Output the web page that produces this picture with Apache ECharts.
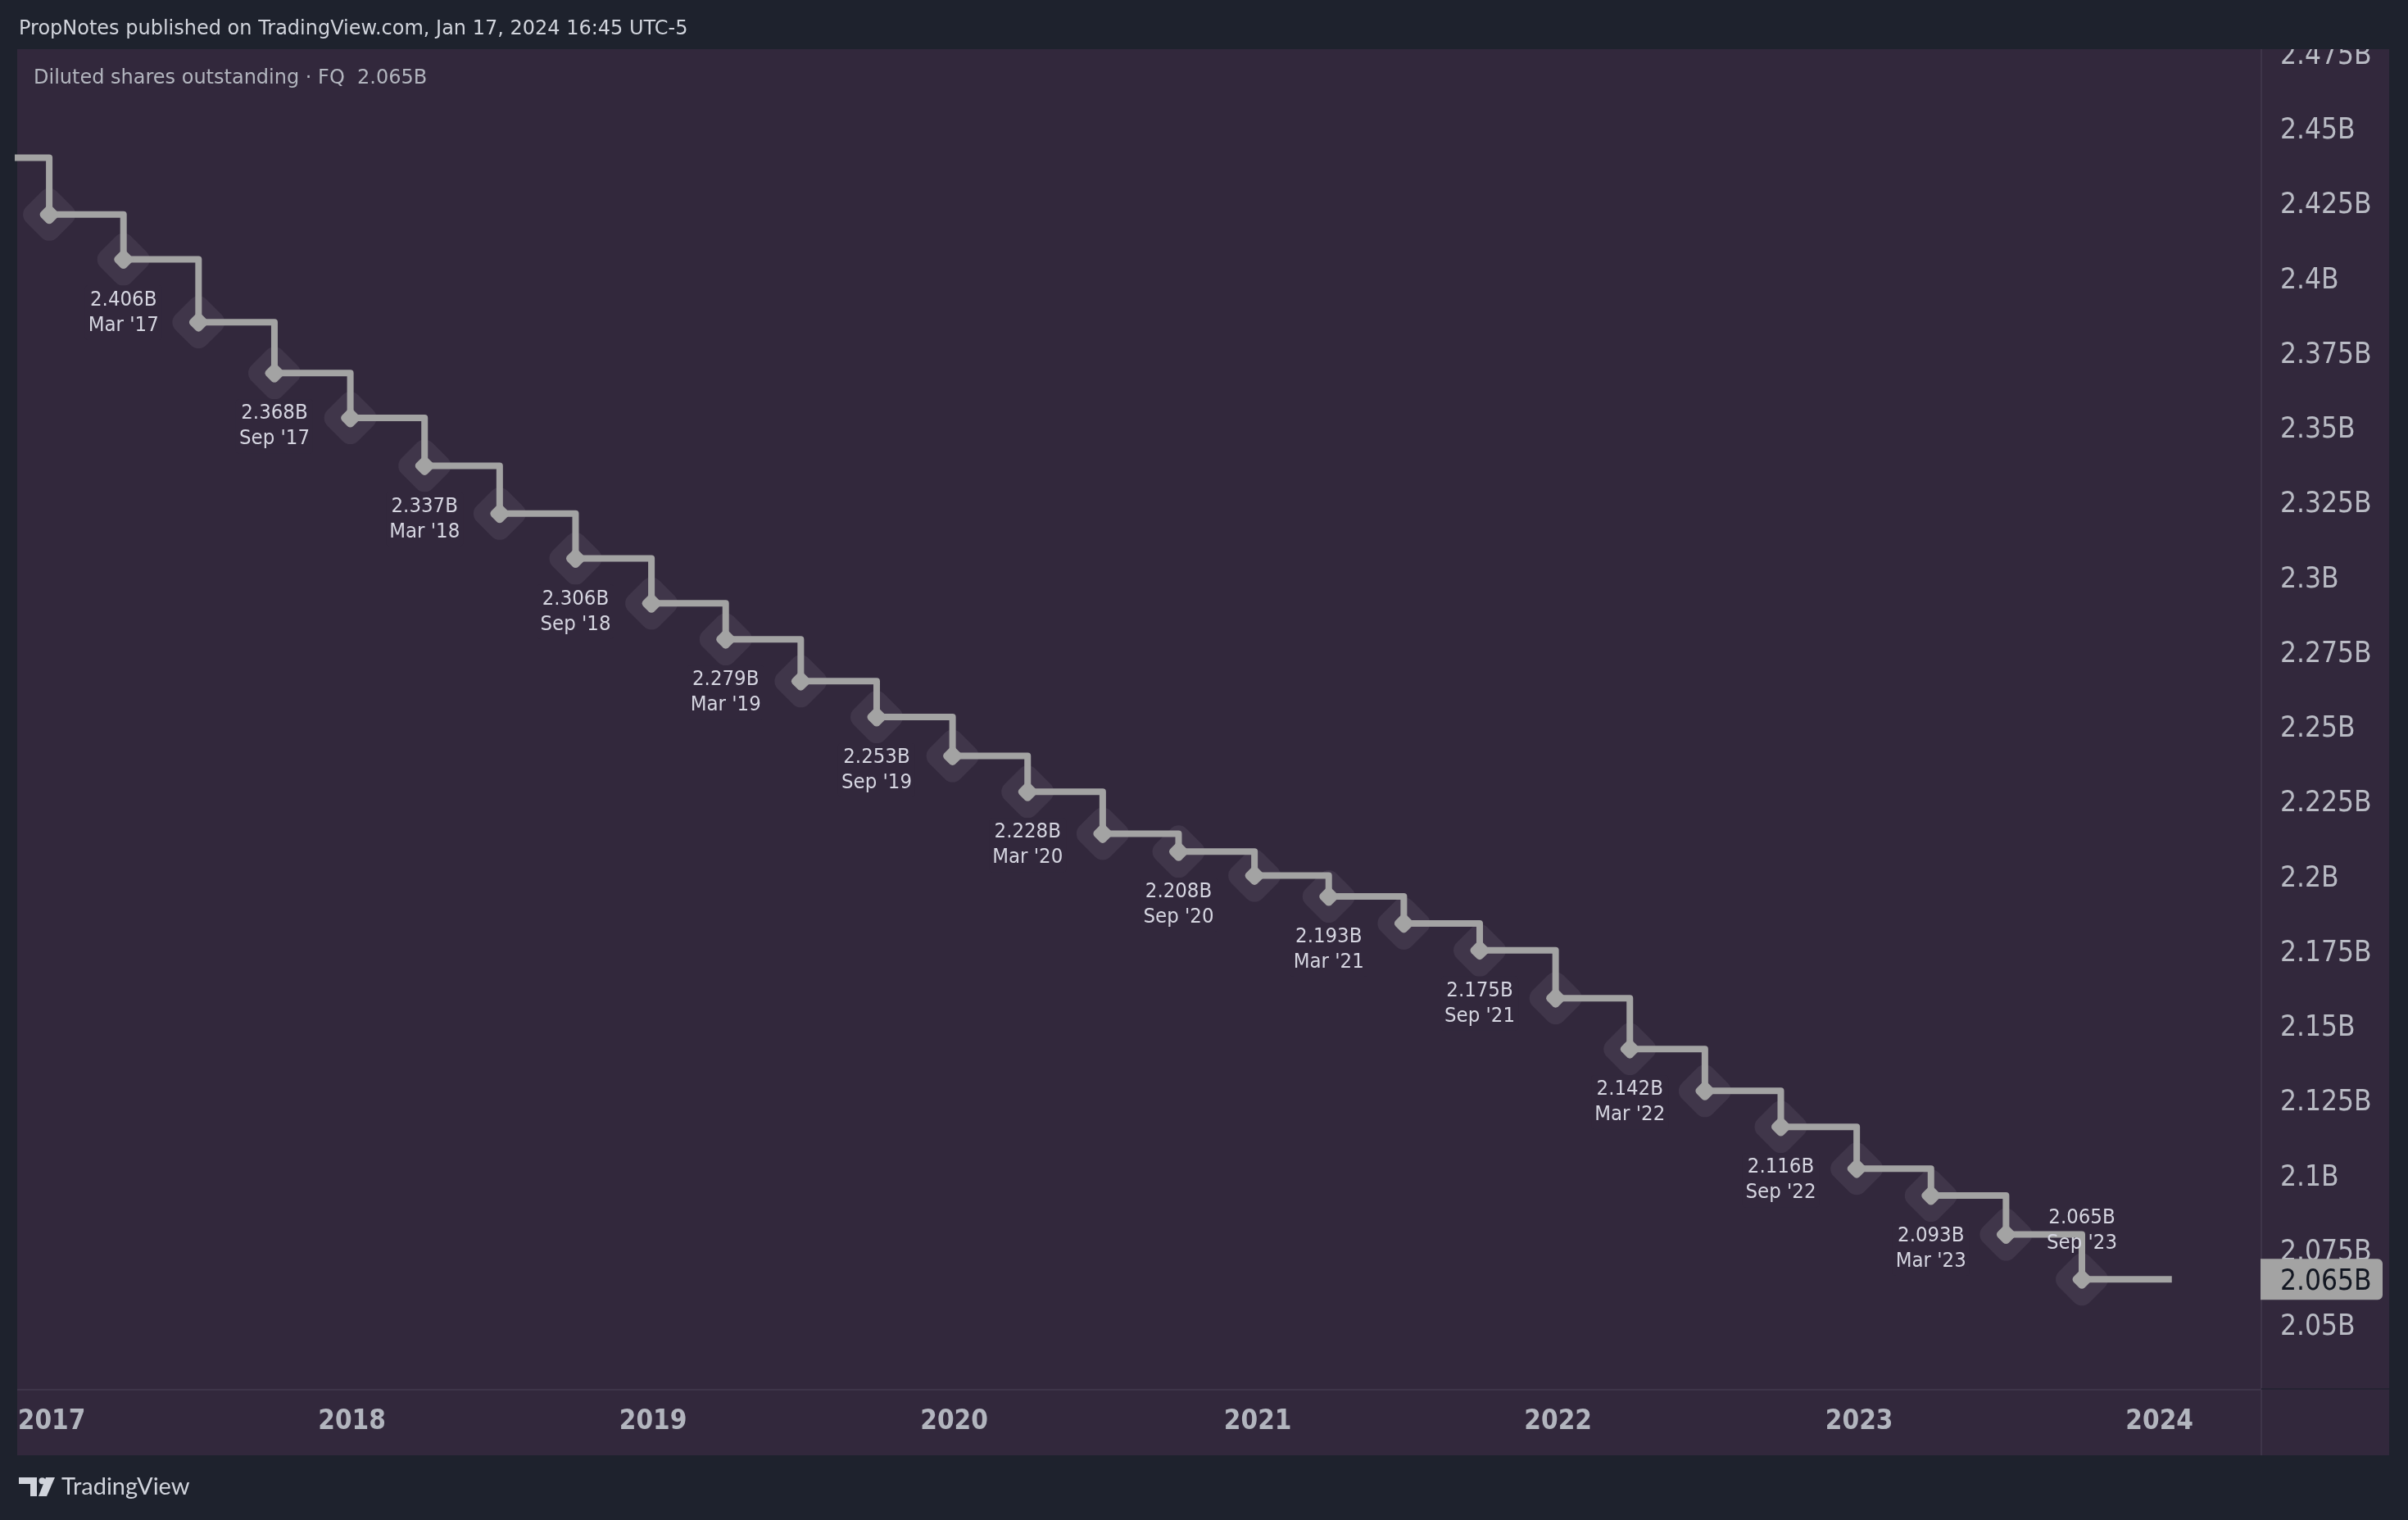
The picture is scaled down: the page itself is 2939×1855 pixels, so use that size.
<!DOCTYPE html>
<html>
<head>
<meta charset="utf-8">
<script src="https://cdn.jsdelivr.net/npm/echarts@6/dist/echarts.min.js"></script>
<style>
html,body{margin:0;padding:0;background:#1e222d;}
#c{width:2939px;height:1855px;}
</style>
</head>
<body>
<div id="c"></div>
<script>
// ---- data ----
const quarters = ["Sep '16","Dec '16","Mar '17","Jun '17","Sep '17","Dec '17","Mar '18","Jun '18","Sep '18","Dec '18",
  "Mar '19","Jun '19","Sep '19","Dec '19","Mar '20","Jun '20","Sep '20","Dec '20","Mar '21","Jun '21",
  "Sep '21","Dec '21","Mar '22","Jun '22","Sep '22","Dec '22","Mar '23","Jun '23","Sep '23"];
const periodEnds = ['2016-09-30','2016-12-31','2017-03-31','2017-06-30','2017-09-30','2017-12-31','2018-03-31','2018-06-30','2018-09-30','2018-12-31',
  '2019-03-31','2019-06-30','2019-09-30','2019-12-31','2020-03-31','2020-06-30','2020-09-30','2020-12-31','2021-03-31','2021-06-30',
  '2021-09-30','2021-12-31','2022-03-31','2022-06-30','2022-09-30','2022-12-31','2023-03-31','2023-06-30','2023-09-30'];
const shares = [2.440, 2.421, 2.406, 2.385, 2.368, 2.353, 2.337, 2.321, 2.306, 2.291,
  2.279, 2.265, 2.253, 2.240, 2.228, 2.214, 2.208, 2.200, 2.193, 2.184,
  2.175, 2.159, 2.142, 2.128, 2.116, 2.102, 2.093, 2.080, 2.065];
const publishDate = '2024-01-17';
// first trading session of each year (where the year ticks sit)
const yearTickDates = ['2017-01-03','2018-01-02','2019-01-02','2020-01-02','2021-01-04','2022-01-03','2023-01-03','2024-01-02'];
const priceTicks = [2.05, 2.075, 2.1, 2.125, 2.15, 2.175, 2.2, 2.225, 2.25, 2.275, 2.3, 2.325, 2.35, 2.375, 2.4, 2.425, 2.45, 2.475];
const headerText = 'PropNotes published on TradingView.com, Jan 17, 2024 16:45 UTC-5';
const seriesName = 'Diluted shares outstanding';
const periodType = 'FQ';

// ---- helpers / styling ----
const ts = s => { const p = s.split('-').map(Number); return new Date(p[0], p[1] - 1, p[2] || 1, p[3] || 0).getTime(); };
const FONT = '"DejaVu Sans Condensed","DejaVu Sans",sans-serif';
const FONT_WIDE = '"DejaVu Sans",sans-serif';
const BG = '#1e222d', PANEL = '#32283c', HALO = '#433a4e', LINE = '#a3a3a3';
const last = shares.length - 1;
const fmtB = v => (+v.toFixed(3)) + 'B';

const lineData = periodEnds.map((d, i) => {
  const item = { value: [ts(d), shares[i]] };
  if (i === 0) item.symbol = 'none';
  if (i > 0 && /^(Mar|Sep)/.test(quarters[i])) {
    const up = i === last;
    item.label = {
      show: true,
      formatter: shares[i].toFixed(3) + 'B\n' + quarters[i],
      offset: [0, up ? -59 : 65],
      backgroundColor: up ? 'transparent' : PANEL
    };
  }
  return item;
});
lineData.push({ value: [ts(publishDate), shares[last]], symbol: 'none' });

const haloData = periodEnds.slice(1).map((d, i) => [ts(d), shares[i + 1]]);

const chart = echarts.init(document.getElementById('c'), null, { renderer: 'canvas' });
chart.setOption({
  animation: false,
  backgroundColor: BG,
  grid: { left: 22, right: 179, top: 60, bottom: 159, containLabel: false },
  xAxis: {
    type: 'value',
    min: ts('2016-11-23-4'),
    max: ts('2024-05-04-12'),
    axisLine: { show: false }, axisTick: { show: false }, splitLine: { show: false },
    axisLabel: {
      customValues: yearTickDates.map(ts),
      formatter: v => String(new Date(v).getFullYear()),
      color: '#b2b5be', fontSize: 33, fontWeight: 'bold', fontFamily: FONT, margin: 23
    }
  },
  yAxis: {
    type: 'value', position: 'right',
    min: 2.0281, max: 2.4763,
    axisLine: { show: false }, axisTick: { show: false }, splitLine: { show: false },
    axisLabel: {
      customValues: priceTicks,
      formatter: v => fmtB(v),
      color: '#b8bac3', fontSize: 35, fontFamily: FONT, margin: 23, align: 'left',
      verticalAlign: 'top', lineHeight: 8
    }
  },
  series: [
    {
      type: 'scatter', silent: true, z: 1,
      symbol: 'roundRect', symbolSize: 53, symbolRotate: 45,
      itemStyle: { color: HALO },
      data: haloData
    },
    {
      type: 'line', name: seriesName, z: 3, silent: true,
      step: 'end', showAllSymbol: true,
      symbol: 'roundRect', symbolSize: 19, symbolRotate: 45,
      itemStyle: { color: LINE },
      lineStyle: { color: LINE, width: 8, join: 'round' },
      label: {
        show: false, position: 'inside',
        color: '#d5d5e0', fontSize: 25.5, lineHeight: 31, fontFamily: FONT,
        padding: [2, 4], borderRadius: 4
      },
      data: lineData
    }
  ]
});

// current-value badge on the price scale, placed through the y axis scale
const py = chart.convertToPixel({ yAxisIndex: 0 }, shares[last]);
chart.setOption({
  graphic: [
    { type: 'rect', z: -10, shape: { x: 21, y: 60, width: 2895, height: 1716 }, style: { fill: PANEL } },
    { type: 'line', z: -5, shape: { x1: 2760, y1: 60, x2: 2760, y2: 1776 }, style: { stroke: '#3e3549', lineWidth: 2 } },
    { type: 'line', z: -5, shape: { x1: 21, y1: 1696, x2: 2760, y2: 1696 }, style: { stroke: '#3e3549', lineWidth: 2 } },
    { type: 'line', z: -5, shape: { x1: 2760, y1: 1695, x2: 2916, y2: 1695 }, style: { stroke: '#252433', lineWidth: 2 } },
    { type: 'rect', z: 50, shape: { x: 0, y: 0, width: 2939, height: 60 }, style: { fill: BG } },
    { type: 'text', z: 51, x: 23, y: 36, style: { text: headerText, fill: '#d1d4dc', fontSize: 24, fontFamily: FONT_WIDE, verticalAlign: 'middle' } },
    { type: 'text', z: 51, x: 41, y: 96, style: { text: seriesName + ' \u00b7 ' + periodType + '  ' + fmtB(shares[last]), fill: '#b2b5be', fontSize: 24, fontFamily: FONT_WIDE, verticalAlign: 'middle' } },
    { type: 'rect', z: 40, shape: { x: 2759, y: py - 25, width: 149, height: 50, r: [0, 6, 6, 0] }, style: { fill: LINE } },
    { type: 'text', z: 41, x: 2783, y: py + 4, style: { text: fmtB(shares[last]), fill: '#131722', fontSize: 35, fontFamily: FONT, verticalAlign: 'middle' } },
    { type: 'polygon', z: 51, shape: { points: [[23, 1803], [45, 1803], [45, 1826], [37, 1826], [37, 1811], [23, 1811]] }, style: { fill: '#d1d4dc' } },
    { type: 'circle', z: 51, shape: { cx: 51.5, cy: 1807.3, r: 4 }, style: { fill: '#d1d4dc' } },
    { type: 'polygon', z: 51, shape: { points: [[56, 1803], [67, 1803], [57, 1826], [47, 1826]] }, style: { fill: '#d1d4dc' } },
    { type: 'text', z: 51, x: 75, y: 1815, style: { text: 'TradingView', fill: '#d1d4dc', fontSize: 29, fontFamily: 'Lato, "Open Sans", sans-serif', verticalAlign: 'middle' } }
  ]
});
</script>
</body>
</html>
